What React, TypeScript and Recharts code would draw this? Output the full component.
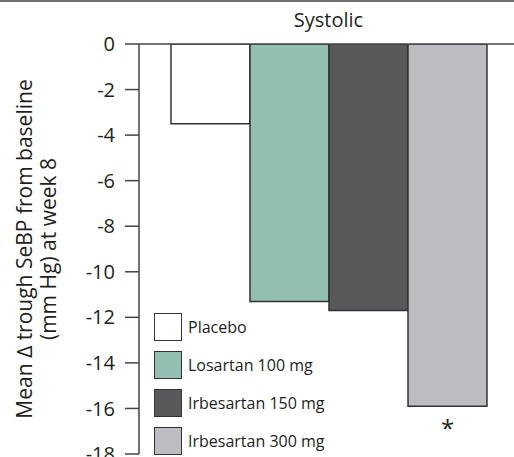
import React from 'react';
import { BarChart, Bar, XAxis, YAxis, ReferenceLine, LabelList } from 'recharts';

const groups = ['Systolic'];
const seriesNames = ['Placebo', 'Losartan 100 mg', 'Irbesartan 150 mg', 'Irbesartan 300 mg'];
const seriesKeys = ['placebo', 'losartan100', 'irbesartan150', 'irbesartan300'];
const seriesValues = [-3.5, -11.3, -11.7, -15.9];
const seriesColors = ['#ffffff', '#93bfb3', '#58595b', '#bcbdc0'];
const yTicks = [0, -2, -4, -6, -8, -10, -12, -14, -16, -18];
const significant = ['irbesartan300'];

const data = groups.map(name => {
    const row: Record<string, string | number> = { name };
    seriesKeys.forEach((k, i) => { row[k] = seriesValues[i]; });
    return row;
});

const FONT = '"Open Sans", "DejaVu Sans", sans-serif';
const INK = '#231f20';
const EDGE = '#333333';

const YLabel = (props: any) => {
    const vb = props.viewBox || { y: 44, height: 410 };
    const cy = vb.y + vb.height / 2;
    return (
        <g fontFamily={FONT} fontSize={21} fill={INK}>
            <text x={24} y={cy} textAnchor="middle" dominantBaseline="central" transform={`rotate(-90 24 ${cy})`}>
                Mean ∆ trough SeBP from baseline
            </text>
            <text x={48} y={cy} textAnchor="middle" dominantBaseline="central" transform={`rotate(-90 48 ${cy})`}>
                (mm Hg) at week 8
            </text>
        </g>
    );
};

const Star = (props: any) => {
    const { x, y, width, height } = props;
    const bottom = Math.max(y, y + height);
    return (
        <text x={x + width / 2} y={bottom + 31} textAnchor="middle" fontFamily={FONT} fontSize={24} fill={INK}>
            *
        </text>
    );
};

// legend sits over the plot, lower left
const LegendBox = () => (
    <div style={{ position: 'absolute', left: 154, top: 312, fontFamily: FONT, fontSize: 16, color: INK }}>
        {seriesNames.map((n, i) => (
            <div key={n} style={{ display: 'flex', alignItems: 'center', height: 29, marginBottom: 9.3 }}>
                <div style={{ width: 26, height: 26, background: seriesColors[i], border: `1.5px solid ${EDGE}`, marginRight: 6 }} />
                <span>{n}</span>
            </div>
        ))}
    </div>
);

export default function App() {
    return (
        <div style={{ position: 'relative', width: 514, height: 457, background: '#fff', overflow: 'hidden' }}>
            <style>{'body{margin:0}'}</style>
            <div style={{ position: 'absolute', left: 0, top: 0, width: 514, height: 1.5, background: '#6d6e71' }} />
            <BarChart
                width={518}
                height={457}
                data={data}
                margin={{ top: 44, right: 0, left: 0, bottom: 3 }}
                barGap={0}
            >
                <XAxis dataKey="name" hide />
                <YAxis
                    width={139}
                    domain={[-18, 0]}
                    ticks={yTicks}
                    interval={0}
                    allowDataOverflow
                    axisLine={{ stroke: '#444', strokeWidth: 1.5 }}
                    tickLine={{ stroke: '#444', strokeWidth: 1.5 }}
                    tickSize={14}
                    tickMargin={10}
                    tick={{ fill: INK, fontSize: 20, fontFamily: FONT }}
                    label={<YLabel />}
                />
                <ReferenceLine
                    y={0}
                    stroke="#444"
                    strokeWidth={1.5}
                    label={{ value: 'Systolic', position: 'top', offset: 17, fill: INK, fontSize: 20, fontFamily: FONT }}
                />
                {seriesKeys.map((k, i) => (
                    <Bar
                        key={k}
                        dataKey={k}
                        name={seriesNames[i]}
                        fill={seriesColors[i]}
                        stroke={EDGE}
                        strokeWidth={1.5}
                        barSize={79}
                        isAnimationActive={false}
                    >
                        {significant.includes(k) && <LabelList dataKey={k} content={<Star />} />}
                    </Bar>
                ))}
            </BarChart>
            <LegendBox />
        </div>
    );
}
